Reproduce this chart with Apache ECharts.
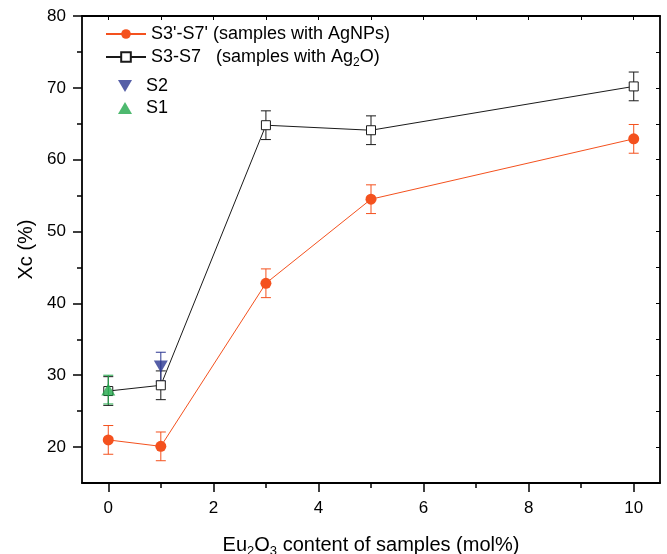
<!DOCTYPE html>
<html>
<head>
<meta charset="utf-8">
<script src="https://cdn.jsdelivr.net/npm/echarts@6/dist/echarts.min.js"></script>
<style>
html,body{margin:0;padding:0;background:#fff;}
#chart{width:667px;height:554px;}
</style>
</head>
<body>
<div id="chart"></div>
<script>
// ---- data ----
const xValues = [0, 1, 3, 5, 10];
const agnpY = [21.0, 20.1, 42.8, 54.5, 62.9];
const agnpErr = [2, 2, 2, 2, 2];
const ag2oY = [27.8, 28.6, 64.8, 64.1, 70.2];
const ag2oErr = [2, 2, 2, 2, 2];
const s2X = [1];
const s2Y = [31.2];
const s2Err = [2];
const s1X = [0];
const s1Y = [28.0];
const s1Err = [2];
const xTickLabels = [0, 2, 4, 6, 8, 10];
const xMinorTicks = [1, 3, 5, 7, 9];
const yTickLabels = [20, 30, 40, 50, 60, 70, 80];
const yMinorTicks = [25, 35, 45, 55, 65, 75];

const nameAgNPs = "S3'-S7' (samples with AgNPs)";
const nameAg2O = "S3-S7   (samples with Ag2O)";
const nameS2 = "S2";
const nameS1 = "S1";

const ORANGE = '#F4511E';
const BLACK = '#1a1a1a';
const BLUE = '#2B3691';
const GREEN = '#22A84B';
const FONT = '"Liberation Sans", Arial, sans-serif';

function pairs(xs, ys) { return xs.map((x, i) => [x, ys[i]]); }
function errData(xs, ys, es) { return xs.map((x, i) => [x, ys[i] - es[i], ys[i] + es[i]]); }

function errSeries(xs, ys, es, color, z) {
  return {
    type: 'custom',
    xAxisIndex: 0, yAxisIndex: 0,
    z: z,
    silent: true,
    data: errData(xs, ys, es),
    renderItem: function (params, api) {
      const x = api.value(0);
      const lo = api.coord([x, api.value(1)]);
      const hi = api.coord([x, api.value(2)]);
      const hw = 5;
      const st = { stroke: color, lineWidth: 1 };
      return {
        type: 'group',
        children: [
          { type: 'line', shape: { x1: lo[0], y1: lo[1], x2: hi[0], y2: hi[1] }, style: st },
          { type: 'line', shape: { x1: lo[0] - hw, y1: lo[1], x2: lo[0] + hw, y2: lo[1] }, style: st },
          { type: 'line', shape: { x1: hi[0] - hw, y1: hi[1], x2: hi[0] + hw, y2: hi[1] }, style: st }
        ]
      };
    }
  };
}

const chart = echarts.init(document.getElementById('chart'), null, { renderer: 'canvas' });

const axisLineStyle = { color: '#000', width: 1.8 };
const xRange = { min: -0.5, max: 10.5 };
const yRange = { min: 15, max: 80 };

const option = {
  backgroundColor: '#fff',
  animation: false,
  textStyle: { fontFamily: FONT },
  grid: { left: 82, right: 7, top: 16, bottom: 71, containLabel: false, outerBoundsMode: 'none' },
  legend: [
    {
      data: [nameAgNPs, nameAg2O],
      orient: 'vertical',
      left: 100, top: 20,
      padding: 5,
      itemWidth: 40, itemHeight: 12,
      itemGap: 5,
      textStyle: {
        fontFamily: FONT, fontSize: 18, color: '#000',
        rich: { sub: { fontSize: 12, fontFamily: FONT, color: '#000', padding: [11, 0, 0, 0] } }
      },
      formatter: function (n) { return n.replace('Ag2O', 'Ag{sub|2}O'); }
    },
    {
      data: [
        { name: nameS2, icon: 'path://M0,0 L14,0 L7,12 Z' },
        { name: nameS1, icon: 'triangle' }
      ],
      orient: 'vertical',
      left: 113, top: 72,
      padding: 5,
      itemWidth: 14, itemHeight: 12,
      itemGap: 4,
      textStyle: { fontFamily: FONT, fontSize: 18, color: '#000', padding: [0, 0, 0, 9] }
    }
  ],
  xAxis: [
    {
      type: 'value', position: 'bottom', ...xRange,
      splitLine: { show: false },
      axisLine: { show: true, onZero: false, lineStyle: axisLineStyle },
      axisTick: { show: true, inside: false, length: 9, customValues: xTickLabels, lineStyle: { color: '#000', width: 1.5 } },
      axisLabel: { show: true, customValues: xTickLabels, fontSize: 17, color: '#000', margin: 17, fontFamily: FONT },
      name: 'Eu{sub|2}O{sub|3} content of samples (mol%)',
      nameLocation: 'middle', nameGap: 49,
      nameTextStyle: {
        fontSize: 20, color: '#000', fontFamily: FONT,
        rich: { sub: { fontSize: 13, color: '#000', fontFamily: FONT, padding: [13, 0, 0, 0] } }
      }
    },
    {
      type: 'value', position: 'bottom', ...xRange,
      splitLine: { show: false },
      axisLine: { show: false, onZero: false },
      axisTick: { show: true, inside: false, length: 5, customValues: xMinorTicks, lineStyle: { color: '#000', width: 1.5 } },
      axisLabel: { show: false }
    },
    {
      type: 'value', position: 'top', ...xRange,
      splitLine: { show: false },
      axisLine: { show: true, onZero: false, lineStyle: axisLineStyle },
      axisTick: { show: true, inside: true, length: 4, customValues: [0,1,2,3,4,5,6,7,8,9,10], lineStyle: { color: '#000', width: 1 } },
      axisLabel: { show: false }
    }
  ],
  yAxis: [
    {
      type: 'value', position: 'left', ...yRange,
      splitLine: { show: false },
      axisLine: { show: true, onZero: false, lineStyle: axisLineStyle },
      axisTick: { show: true, inside: false, length: 9, customValues: yTickLabels, lineStyle: { color: '#000', width: 1.5 } },
      axisLabel: { show: true, customValues: yTickLabels, fontSize: 17, color: '#000', margin: 16, fontFamily: FONT },
      name: 'Xc (%)',
      nameLocation: 'middle', nameGap: 44,
      nameTextStyle: { fontSize: 20, color: '#000', fontFamily: FONT }
    },
    {
      type: 'value', position: 'left', ...yRange,
      splitLine: { show: false },
      axisLine: { show: false, onZero: false },
      axisTick: { show: true, inside: false, length: 5, customValues: yMinorTicks, lineStyle: { color: '#000', width: 1.5 } },
      axisLabel: { show: false }
    },
    {
      type: 'value', position: 'right', ...yRange,
      splitLine: { show: false },
      axisLine: { show: true, onZero: false, lineStyle: axisLineStyle },
      axisTick: { show: true, inside: true, length: 4, customValues: yTickLabels.concat(yMinorTicks), lineStyle: { color: '#000', width: 1 } },
      axisLabel: { show: false }
    }
  ],
  series: [
    errSeries(xValues, agnpY, agnpErr, ORANGE, 2),
    errSeries(xValues, ag2oY, ag2oErr, BLACK, 2),
    {
      name: nameAgNPs, type: 'line', xAxisIndex: 0, yAxisIndex: 0,
      data: pairs(xValues, agnpY),
      symbol: 'circle', symbolSize: 11,
      lineStyle: { color: ORANGE, width: 1 },
      itemStyle: { color: ORANGE },
      z: 3
    },
    {
      name: nameAg2O, type: 'line', xAxisIndex: 0, yAxisIndex: 0,
      data: pairs(xValues, ag2oY),
      symbol: 'rect', symbolSize: 9,
      lineStyle: { color: BLACK, width: 1 },
      itemStyle: { color: '#fff', borderColor: BLACK, borderWidth: 1 },
      z: 4
    },
    errSeries(s2X, s2Y, s2Err, BLUE, 4),
    {
      name: nameS2, type: 'scatter', xAxisIndex: 0, yAxisIndex: 0,
      data: pairs(s2X, s2Y),
      symbol: 'triangle', symbolRotate: 180, symbolSize: [14, 12],
      itemStyle: { color: BLUE },
      z: 3
    },
    errSeries(s1X, s1Y, s1Err, GREEN, 5),
    {
      name: nameS1, type: 'scatter', xAxisIndex: 0, yAxisIndex: 0,
      data: pairs(s1X, s1Y),
      symbol: 'triangle', symbolSize: [14, 12],
      itemStyle: { color: GREEN },
      z: 5
    }
  ]
};
chart.setOption(option);
</script>
</body>
</html>
